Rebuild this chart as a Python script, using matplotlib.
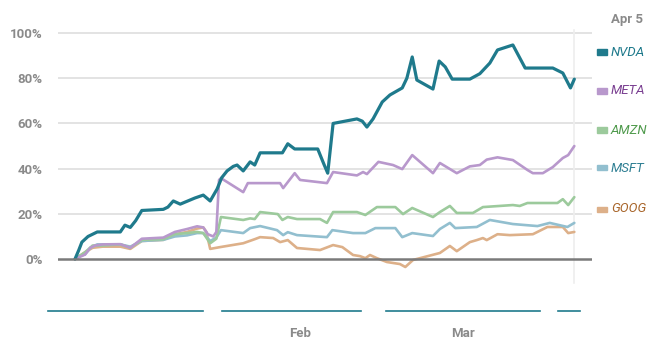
import matplotlib
matplotlib.use("Agg")
import matplotlib.pyplot as plt
import matplotlib.transforms as mtransforms

plt.rcParams['font.family'] = ['Roboto', 'DejaVu Sans']

# x in trading-day units (0 = start of the period, 65 = Apr 5)
nvda_x = [0, 0.5, 0.9, 1.7, 2.9, 5.9, 6.5, 7.2, 7.9, 8.7, 11.5, 12.1, 12.8, 13.7, 15.6, 16.7, 17.6,
          18.5, 19.1, 19.8, 20.6, 21.1, 21.9, 22.8, 23.4, 24.1, 27.0, 27.7, 28.6, 31.6, 32.4, 32.9,
          33.6, 36.7, 37.4, 38.0, 38.8, 40.0, 41.0, 42.6, 43.2, 43.9, 44.5, 46.6, 47.4, 48.2, 49.1,
          51.4, 52.7, 54.0, 55.0, 57.0, 58.6, 62.2, 63.5, 64.5, 65.0]
nvda_y = [0, 4, 7.5, 10, 12, 12, 15, 14, 17, 21.5, 22, 23, 25.7, 24.3, 27, 28.3, 25.7,
          31, 36, 39, 41, 41.6, 39, 43, 41.6, 47, 47, 51, 48.7, 48.7, 42, 38,
          60, 62, 61, 58.4, 62, 69.5, 72.6, 75.7, 80, 89.4, 79.2, 75.2, 87.6, 85, 79.6,
          79.6, 82, 86.7, 92.5, 94.7, 84.5, 84.5, 82.3, 75.7, 79.6]

meta_x = [0, 0.65, 1.3, 2.0, 2.6, 3.6, 5.9, 7.2, 8.7, 11.5, 13.0, 14.6, 15.9, 16.7, 17.3, 18.0,
          18.4, 18.75, 19.0, 21.9, 22.5, 26.7, 27.1, 28.6, 29.3, 32.8, 33.6, 36.7, 37.5, 38.0,
          39.5, 41.4, 42.6, 43.9, 46.6, 47.5, 49.7, 51.4, 52.7, 53.6, 55.0, 57.0, 58.9, 59.6,
          60.9, 62.2, 63.5, 64.2, 65.0]
meta_y = [0, 1, 2, 5, 6, 6.5, 6.6, 5, 9, 9.5, 12, 13.3, 14.5, 14, 11, 10,
          12, 35, 35.8, 29.6, 33.6, 33.6, 31.4, 38, 35, 33.6, 38.5, 37, 38.5, 37.6,
          43, 41.6, 39.8, 46, 38, 42.5, 38, 41, 41.6, 44, 45, 43.8, 39.4, 38,
          38, 40.7, 44.7, 46, 50]

amzn_x = [0, 1.3, 2.3, 3.6, 5.9, 7.2, 8.7, 11.5, 13.0, 14.6, 15.9, 16.7, 17.6, 18.4, 19.0,
          21.9, 22.8, 23.4, 24.1, 26.4, 27.0, 27.7, 28.9, 31.9, 32.8, 33.6, 36.7, 37.8, 39.3,
          41.7, 42.7, 43.9, 46.6, 47.5, 48.8, 49.7, 51.8, 53.1, 57.0, 57.9, 58.9, 62.8, 63.5,
          64.2, 65.0]
amzn_y = [0, 3, 6, 6, 6.5, 5, 8.5, 8.8, 11, 11.5, 12, 11.5, 7, 9, 18.6,
          17.3, 18, 17.7, 20.8, 19.9, 17.3, 18.6, 17.7, 17.7, 16, 20.8, 20.8, 19.5, 23,
          23, 19.9, 22.6, 18.6, 20.8, 23.5, 20.4, 20.4, 23, 23.9, 23.5, 24.8, 24.8, 26.5,
          23.9, 27.4]

msft_x = [0, 0.65, 1.3, 2.0, 2.9, 5.9, 7.2, 8.7, 11.5, 13.0, 14.6, 15.9, 16.7, 17.6, 18.4,
          19.0, 21.9, 22.8, 24.1, 26.3, 27.1, 27.7, 28.9, 32.8, 33.5, 36.2, 37.8, 39.1, 41.7,
          42.6, 43.9, 46.6, 47.5, 48.8, 49.5, 52.3, 54.0, 57.0, 60.2, 61.8, 64.1, 65.0]
msft_y = [0, 1.5, 2, 5, 6.5, 6.5, 5.5, 8, 8.5, 10, 10.5, 11.5, 11.5, 8, 9.5,
          12.8, 11.5, 13.7, 14.6, 12.8, 10.6, 11.9, 10.6, 9.7, 12.8, 11.5, 11.5, 13.7, 13.7,
          9.7, 11.5, 10.2, 13.3, 16, 13.7, 14.2, 17.3, 15.5, 14.6, 16, 14.2, 16]

goog_x = [0, 1.3, 2.3, 3.6, 5.9, 7.2, 8.7, 11.5, 13.0, 14.6, 15.9, 16.7, 17.1, 17.6, 18.9,
          21.9, 23.4, 24.1, 25.8, 26.7, 27.7, 28.9, 31.9, 33.6, 34.8, 36.2, 37.1, 37.8, 38.4,
          39.3, 40.6, 42.3, 43.0, 44.0, 47.5, 48.8, 49.7, 51.4, 52.3, 53.1, 53.6, 55.0, 56.6,
          59.6, 61.5, 63.5, 64.2, 65.0]
goog_y = [0, 3, 5, 5.5, 5.5, 4.5, 8, 8.5, 11, 12, 13.5, 14, 12, 4.5, 5.3,
          7, 8.8, 9.7, 9.3, 7.5, 8.4, 4.9, 4, 6.2, 5.3, 1.8, 1.3, 0.4, 1.8,
          0.4, -1.3, -2.2, -3.5, -0.4, 2.7, 5.8, 3.5, 7.5, 8.4, 9.3, 8.4, 11, 10.6,
          11, 14.2, 14.2, 11.5, 12]

tickers = ["NVDA", "META", "AMZN", "MSFT", "GOOG"]
line_colors = ["#1f7a8c", "#b898cc", "#9cca9c", "#92bfcf", "#ddb089"]
text_colors = ["#1f7a8c", "#7a3f91", "#4f9a4c", "#2f7f93", "#a8652a"]
series = [(nvda_x, nvda_y), (meta_x, meta_y), (amzn_x, amzn_y), (msft_x, msft_y), (goog_x, goog_y)]

y_ticks = [0, 20, 40, 60, 80, 100]
y_labels = ["0%", "20%", "40%", "60%", "80%", "100%"]
month_pos = [29.3, 50.5]
month_labels = ["Feb", "Mar"]
segments = [(-3.5, 16.7), (19.1, 37.2), (40.5, 60.5), (62.9, 65.8)]
last_day = 65.0

fig = plt.figure(figsize=(6.6, 3.53), dpi=100)
ax = fig.add_axes([58/660, 1 - 300/353, (592-58)/660, (300-20)/353])
ax.set_xlim(-2.21, 67.3)
ax.set_ylim(-18.1, 105.75)
for s in ax.spines.values():
    s.set_visible(False)
ax.set_xticks([])
ax.set_yticks(y_ticks)
ax.set_yticklabels(y_labels)
ax.tick_params(axis='y', length=0, pad=11, labelsize=9.5, labelcolor="#8a8a8a")
for lab in ax.get_yticklabels():
    lab.set_fontweight('bold')

for v in y_ticks[1:]:
    ax.axhline(v, color="#e0e0e0", lw=1.3, zorder=1)
ax.axvline(last_day, ymin=0.06, ymax=1 - 13/280 + 0.01, color="#eeeeee", lw=1.2, zorder=1)

for (xs, ys), c, t in zip(series[::-1], line_colors[::-1], tickers[::-1]):
    lw = 2.3 if t == "NVDA" else 1.9
    ax.plot(xs, ys, color=c, lw=lw, solid_joinstyle='round', solid_capstyle='round', zorder=3)
ax.axhline(0, color="#7a7a7a", lw=1.8, zorder=4)

trans = mtransforms.blended_transform_factory(ax.transData, ax.transAxes)
for a, b in segments:
    ax.plot([a, b], [-0.039, -0.039], transform=trans, color="#1f7a8c", lw=1.2, clip_on=False)
for p, l in zip(month_pos, month_labels):
    ax.text(p, -0.118, l, transform=trans, ha='center', va='center', fontsize=9.5,
            color="#8a8a8a", fontweight='bold')

# legend
fig.text(627/660, 1 - 19/353, "Apr 5", ha='center', va='center', fontsize=9.5,
         color="#8a8a8a", fontweight='bold')
leg_py = [52, 91, 130, 168, 209]
for t, lc, tc, py in zip(tickers, line_colors, text_colors, leg_py):
    fig.patches.append(plt.Rectangle((597/660, 1 - (py + 2.5)/353), 10/660, 5/353,
                                     transform=fig.transFigure, color=lc))
    fig.text(611/660, 1 - py/353, t, ha='left', va='center', fontsize=9.5,
             color=tc, style='italic')

fig.savefig("out.png", dpi=100)
